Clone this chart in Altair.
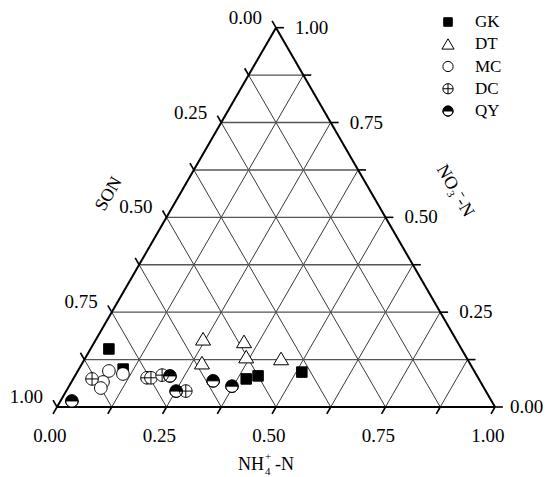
import altair as alt
import pandas as pd
import numpy as np

# ---- data (ternary fractions) ----
series = ["GK", "DT", "MC", "DC", "QY"]
gk_nh4 = [0.042, 0.101, 0.395, 0.418, 0.513]
gk_no3 = [0.153, 0.100, 0.074, 0.082, 0.092]
dt_nh4 = [0.244, 0.341, 0.366, 0.273, 0.448]
dt_no3 = [0.179, 0.172, 0.132, 0.116, 0.127]
mc_nh4 = [0.071, 0.072, 0.075, 0.107]
mc_no3 = [0.095, 0.066, 0.050, 0.087]
dc_nh4 = [0.043, 0.167, 0.176, 0.198, 0.273]
dc_no3 = [0.074, 0.077, 0.077, 0.084, 0.042]
qy_nh4 = [0.026, 0.217, 0.251, 0.322, 0.372]
qy_no3 = [0.016, 0.082, 0.042, 0.069, 0.055]

grid_vals = [0.125, 0.25, 0.375, 0.5, 0.625, 0.75, 0.875]
tick_vals = [0.0, 0.125, 0.25, 0.375, 0.5, 0.625, 0.75, 0.875, 1.0]
label_vals = [0.0, 0.25, 0.5, 0.75, 1.0]
label_text = ["0.00", "0.25", "0.50", "0.75", "1.00"]

S3 = np.sqrt(3) / 2


def cart(nh4, no3):
    return nh4 + no3 / 2.0, no3 * S3


# ---- derived tables ----
rows = []
for name, a, b in [("GK", gk_nh4, gk_no3), ("DT", dt_nh4, dt_no3), ("MC", mc_nh4, mc_no3),
                   ("DC", dc_nh4, dc_no3), ("QY", qy_nh4, qy_no3)]:
    for i, (p, q) in enumerate(zip(a, b)):
        x, y = cart(p, q)
        rows.append({"series": name, "NH4": p, "NO3": q, "SON": 1 - p - q, "x": x, "y": y,
                     "ord": series.index(name) * 10 + i})
pts = pd.DataFrame(rows)


def seg_df(segs):
    out = []
    for (a1, b1), (a2, b2) in segs:
        x1, y1 = cart(a1, b1)
        x2, y2 = cart(a2, b2)
        out.append({"x": x1, "y": y1, "x2": x2, "y2": y2})
    return pd.DataFrame(out)


grid_segs = []
for v in grid_vals:
    grid_segs.append(((v, 0), (v, 1 - v)))
    grid_segs.append(((1 - v, 0), (0, 1 - v)))
hgrid_segs = [((0, v), (1 - v, v)) for v in grid_vals]
border_segs = [((0, 0), (1, 0)), ((1, 0), (0, 1)), ((0, 1), (0, 0))]
t = 0.018
tick_segs = []
for v in tick_vals:
    tick_segs.append(((v, 0), (v, -t)))
    tick_segs.append(((1 - v, v), (1 - v + t, v)))
    tick_segs.append(((0, 1 - v), (-t, 1 - v + t)))

bot = pd.DataFrame([dict(zip(["x", "y"], cart(v, 0)), label=s) for v, s in zip(label_vals, label_text)])
right = pd.DataFrame([dict(zip(["x", "y"], cart(1 - v, v)), label=s) for v, s in zip(label_vals, label_text)])
left = pd.DataFrame([dict(zip(["x", "y"], cart(0, 1 - v)), label=s) for v, s in zip(label_vals, label_text)])

W, H = 537, 469
xs = alt.Scale(domain=[-0.11187, -0.11187 + W / 438.0], nice=False, zero=False)
ys = alt.Scale(domain=[-0.15982, 0.91096], nice=False, zero=False)
X = alt.X("x:Q", scale=xs, axis=None)
Y = alt.Y("y:Q", scale=ys, axis=None)

FONT = "Liberation Serif"


def rules(df, color, width):
    return alt.Chart(df).mark_rule(color=color, strokeWidth=width).encode(
        x=X, y=Y, x2="x2:Q", y2="y2:Q")


grid = rules(seg_df(grid_segs), "#222222", 0.9)
hgrid = rules(seg_df(hgrid_segs), "#555555", 1.4)
border = rules(seg_df(border_segs), "black", 2)
ticks = rules(seg_df(tick_segs), "black", 1.6)


def labels(df, align, dx, dy):
    return alt.Chart(df).mark_text(align=align, baseline="middle", dx=dx, dy=dy,
                                   font=FONT, fontSize=19, color="black").encode(
        x=X, y=Y, text="label:N")


lab_b = labels(bot, "center", -7, 29)
lab_r = labels(right[right.label != "0.00"], "left", 19, 0)
lab_r0 = labels(right[right.label == "0.00"], "left", 15, 0)
lab_l = labels(left, "right", -14, -10)

# marker shapes (unit box -1..1)
sq = "M-0.75,-0.75L0.75,-0.75L0.75,0.75L-0.75,0.75Z"
tri = "M0,-0.95L1.07,0.85L-1.07,0.85Z"
circ = "M-0.9,0A0.9,0.9,0,1,1,0.9,0A0.9,0.9,0,1,1,-0.9,0Z"
dcp = circ + "M-0.9,0L0.9,0M0,-0.9L0,0.9"
qyp = "M-0.9,0A0.9,0.9,0,0,1,0.9,0ZM-0.9,0A0.9,0.9,0,0,0,0.9,0A0.9,0.9,0,0,1,-0.9,0"

shape_enc = alt.Shape("series:N", scale=alt.Scale(domain=series, range=[sq, tri, circ, dcp, qyp]),
                      legend=None)
fill_enc = alt.Fill("series:N", scale=alt.Scale(domain=series,
                                                range=["black", "white", "white", "white", "black"]),
                    legend=None)

under = alt.Chart(pts[pts.series == "QY"]).mark_point(
    shape=circ, filled=True, fill="white", strokeWidth=0, size=196, opacity=1).encode(x=X, y=Y)

points = alt.Chart(pts).mark_point(filled=True, stroke="black", strokeWidth=1, size=196,
                                   opacity=1).encode(
    x=X, y=Y, shape=shape_enc, fill=fill_enc, order=alt.Order("ord:Q"))

# manual legend
legdf = pd.DataFrame({"series": series})
LY = alt.Y("series:N", scale=alt.Scale(domain=series, range=[14, 103], padding=0), axis=None)
leg_under = alt.Chart(legdf[legdf.series == "QY"]).mark_point(
    shape=circ, filled=True, fill="white", strokeWidth=0, size=130, opacity=1).encode(
    x=alt.value(440), y=LY)
leg_sym = alt.Chart(legdf).mark_point(filled=True, stroke="black", strokeWidth=1, size=130,
                                      opacity=1).encode(
    x=alt.value(440), y=LY, shape=shape_enc, fill=fill_enc)
leg_txt = alt.Chart(legdf).mark_text(align="left", baseline="middle", font=FONT, fontSize=17,
                                     color="black").encode(
    x=alt.value(467), y=LY, text="series:N")

# axis titles
son = alt.Chart(pd.DataFrame({"t": ["SON"]})).mark_text(
    angle=300, font=FONT, fontSize=18, align="center", baseline="middle", color="black").encode(
    x=alt.value(101), y=alt.value(186), text="t:N")
no3 = alt.Chart(pd.DataFrame({"t": ["NO\u2083\u207b-N"]})).mark_text(
    angle=60, font=FONT, fontSize=18, align="center", baseline="middle", color="black").encode(
    x=alt.value(447), y=alt.value(183), text="t:N")


def piece(txt, x, y, size, align):
    return alt.Chart(pd.DataFrame({"t": [txt]})).mark_text(
        font=FONT, fontSize=size, align=align, baseline="alphabetic", color="black").encode(
        x=alt.value(x), y=alt.value(y), text="t:N")


nh_a = piece("NH", 256, 462, 18, "right")
nh_b = piece("4", 257, 467, 11, "left")
nh_c = piece("+", 257, 452, 11, "left")
nh_d = piece("-N", 267, 462, 18, "left")

chart = alt.layer(grid, hgrid, border, ticks, lab_b, lab_r, lab_r0, lab_l, under, points,
                  leg_under, leg_sym, leg_txt,
                  son, no3, nh_a, nh_b, nh_c, nh_d).resolve_scale(y="independent").properties(
    width=W, height=H, padding=0, background="white",
    autosize=alt.AutoSizeParams(type="none")
).configure_view(strokeWidth=0)

chart.save("out.html", embed_options={"renderer": "svg", "actions": False})
